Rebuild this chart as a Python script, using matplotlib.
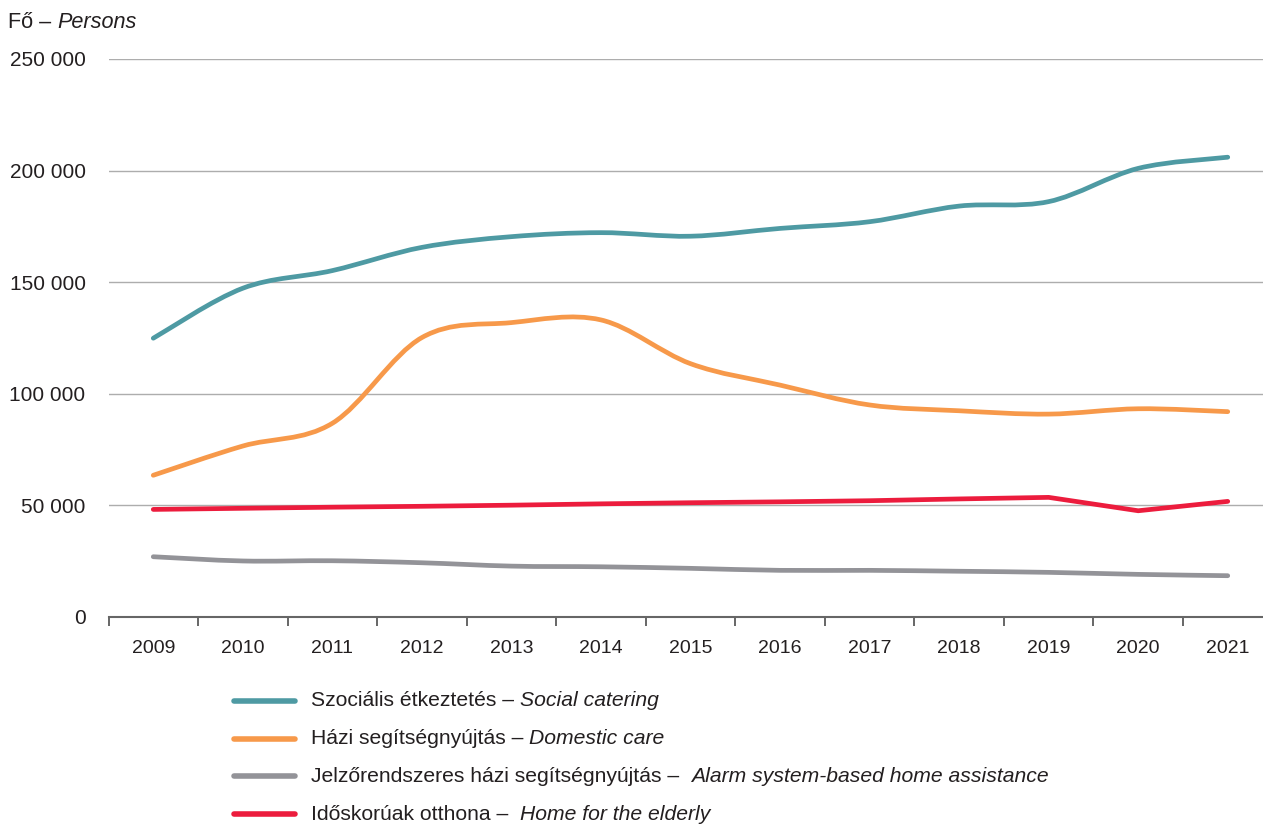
import matplotlib
matplotlib.use("Agg")
import matplotlib.pyplot as plt
import numpy as np
from matplotlib.path import Path
from matplotlib.patches import PathPatch
from matplotlib.lines import Line2D

plt.rcParams['font.family'] = ['Liberation Sans', 'DejaVu Sans']

years = ['2009', '2010', '2011', '2012', '2013', '2014', '2015',
         '2016', '2017', '2018', '2019', '2020', '2021']

social_catering = [124900, 147300, 155200, 165600, 170400, 172200, 170600,
                   174100, 177100, 184100, 186100, 201000, 206000]
domestic_care = [63500, 76600, 86800, 125200, 131900, 133100, 113500,
                 103900, 95000, 92400, 90900, 93300, 92000]
alarm_system = [27000, 25100, 25200, 24300, 22800, 22500, 21800,
                20900, 20900, 20500, 20000, 19100, 18500]
elderly_home = [48200, 48700, 49200, 49600, 50100, 50700, 51200,
                51600, 52100, 52900, 53600, 47600, 51800]

series = [
    ('Szociális étkeztetés – ', 'Social catering', social_catering, '#4E9AA3', True),
    ('Házi segítségnyújtás – ', 'Domestic care', domestic_care, '#F7994A', True),
    ('Jelzőrendszeres házi segítségnyújtás –  ', 'Alarm system-based home assistance',
     alarm_system, '#939398', True),
    ('Időskorúak otthona –  ', 'Home for the elderly', elderly_home, '#EC1C3D', False),
]

W, H = 1263, 825
fig = plt.figure(figsize=(W / 100, H / 100), dpi=100)
ax = fig.add_axes([108.5 / W, 1 - 617 / H, 1 - 108.5 / W, (617 - 59) / H])


def smooth_path(xs, ys):
    # catmull-rom style smoothing turned into cubic bezier segments
    pts = np.column_stack([xs, ys]).astype(float)
    verts = [pts[0]]
    codes = [Path.MOVETO]
    n = len(pts)
    for i in range(n - 1):
        p0 = pts[max(i - 1, 0)]
        p1 = pts[i]
        p2 = pts[i + 1]
        p3 = pts[min(i + 2, n - 1)]
        c1 = p1 + (p2 - p0) / 6.0
        c2 = p2 - (p3 - p1) / 6.0
        verts += [c1, c2, p2]
        codes += [Path.CURVE4] * 3
    return Path(verts, codes)


x = np.arange(len(years))
lw = 3.4
for reg, ital, vals, col, smooth in series:
    if smooth:
        patch = PathPatch(smooth_path(x, vals), facecolor='none', edgecolor=col,
                          lw=lw, capstyle='round', joinstyle='round', zorder=3)
        ax.add_patch(patch)
    else:
        ax.plot(x, vals, color=col, lw=lw, solid_capstyle='round',
                solid_joinstyle='miter', zorder=3)

ax.set_yticks(np.arange(0, 250001, 50000))
ax.set_yticklabels(['0', '50 000', '100 000', '150 000', '200 000', '250 000'])
ax.yaxis.grid(True, color='#ADADAD', lw=1.0)
ax.set_axisbelow(True)
ax.tick_params(axis='y', length=0, pad=16.5, labelsize=15, labelcolor='#231F20')

ax.set_xticks(x)
ax.set_xticklabels(years)
ax.set_xticks(np.arange(-0.5, len(years), 1.0), minor=True)
ax.tick_params(axis='x', which='major', length=0, pad=16.5, labelsize=14, labelcolor='#231F20')
ax.tick_params(axis='x', which='minor', length=6.5, width=1.4, color='#666666', direction='out')

# limits after the ticks, set_xticks would widen them
ax.set_xlim(-0.5, (W - 108.5) / 89.54 - 0.5)
ax.set_ylim(0, 250000)

for s in ['top', 'right', 'left']:
    ax.spines[s].set_visible(False)
ax.spines['bottom'].set_color('#666666')
ax.spines['bottom'].set_linewidth(1.5)

renderer = fig.canvas.get_renderer()


def mixed_text(xpx, ypx, regular, italic, size):
    t1 = fig.text(xpx / W, 1 - ypx / H, regular, fontsize=size, va='center',
                  ha='left', color='#231F20')
    bb = t1.get_window_extent(renderer)
    fig.text(bb.x1 / W, 1 - ypx / H, italic, fontsize=size, va='center',
             ha='left', style='italic', color='#231F20')


mixed_text(8, 22, 'Fő – ', 'Persons', 15.6)

leg_y = [701, 739, 776, 814]
for (reg, ital, vals, col, smooth), yy in zip(series, leg_y):
    fig.add_artist(Line2D([234 / W, 295 / W], [1 - yy / H, 1 - yy / H], color=col,
                          lw=4, solid_capstyle='round', transform=fig.transFigure))
    mixed_text(311, yy, reg, ital, 15.2)

fig.savefig('out.png', dpi=100)
